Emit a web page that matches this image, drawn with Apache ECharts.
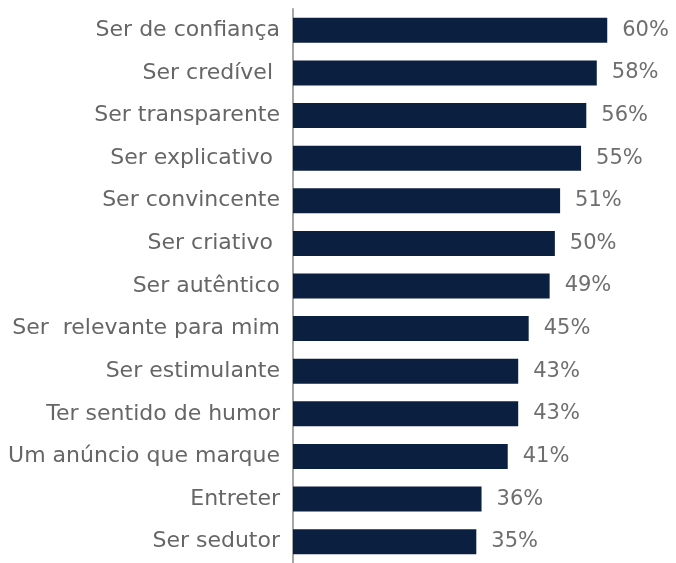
<!DOCTYPE html>
<html>
<head>
<meta charset="utf-8">
<script src="https://cdn.jsdelivr.net/npm/echarts@6/dist/echarts.min.js"></script>
<style>
html,body{margin:0;padding:0;background:#fff;}
#chart{width:676px;height:563px;}
</style>
</head>
<body>
<div id="chart"></div>
<script>
const categories = [
  "Ser de confiança",
  "Ser credível ",
  "Ser transparente",
  "Ser explicativo ",
  "Ser convincente",
  "Ser criativo ",
  "Ser autêntico",
  "Ser  relevante para mim",
  "Ser estimulante",
  "Ter sentido de humor",
  "Um anúncio que marque",
  "Entreter",
  "Ser sedutor"
];
const values = [60, 58, 56, 55, 51, 50, 49, 45, 43, 43, 41, 36, 35];

const FONT = '"DejaVu Sans", sans-serif';
const chart = echarts.init(document.getElementById('chart'), null, {renderer: 'canvas'});
chart.setOption({
  animation: false,
  grid: {left: 293, top: 9, width: 364, height: 561, containLabel: false},
  xAxis: {
    type: 'value', min: 0, max: 69.5, show: false
  },
  yAxis: {
    type: 'category',
    data: categories,
    inverse: true,
    axisLine: {show: true, lineStyle: {color: '#a6a6a6', width: 2}},
    axisTick: {show: false},
    axisLabel: {
      color: '#666666', fontSize: 22, margin: 13,
      fontFamily: FONT
    }
  },
  series: [{
    type: 'bar',
    data: values,
    barWidth: 25,
    itemStyle: {color: '#0b1f40'},
    label: {
      show: true, position: 'right', distance: 15,
      formatter: p => p.value + '%',
      color: '#6e6e6e', fontSize: 21,
      fontFamily: FONT
    }
  }]
});
</script>
</body>
</html>
